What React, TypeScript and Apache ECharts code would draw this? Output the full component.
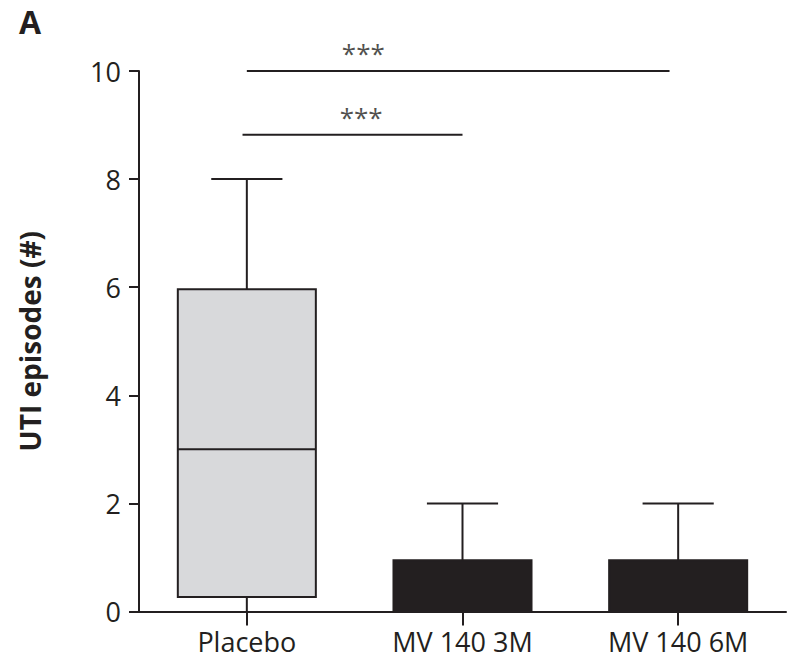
import React, { useEffect, useRef } from "react";
import * as echarts from "echarts";

// ---- data ----
const categories = ["Placebo", "MV 140 3M", "MV 140 6M"];
const whiskerLow = [0, 0, 0];
const q1Values = [0.27, 0, 0];
const medianValues = [3, 0, 0];
const q3Values = [5.96, 0.95, 0.95];
const whiskerHigh = [8, 2, 2];
const yTicks = [0, 2, 4, 6, 8, 10];

// significance brackets
const sigStart = [0, -0.02];
const sigEnd = [1.96, 1.0];
const sigLevel = [10, 8.82];
const sigStarX = [0.54, 0.53];
const sigLabels = ["***", "***"];

const INK = "#231f20";
const boxFills = ["#d8d9db", INK, INK];
const FONT = "'Open Sans', 'Noto Sans', sans-serif";

export default function App() {
  const ref = useRef<HTMLDivElement>(null);
  useEffect(() => {
    if (!ref.current) return;
    document.body.style.margin = "0";
    const chart = echarts.init(ref.current, undefined, { renderer: "svg" });
    const boxData = categories.map((_, i) => [
      i,
      whiskerLow[i],
      q1Values[i],
      medianValues[i],
      q3Values[i],
      whiskerHigh[i],
    ]);
    const sigSeries: any[] = [];
    sigLevel.forEach((lv, k) => {
      sigSeries.push({
        type: "line",
        xAxisIndex: 1,
        yAxisIndex: 0,
        data: [
          [sigStart[k], lv],
          [sigEnd[k], lv],
        ],
        symbol: "none",
        lineStyle: { color: INK, width: 2 },
        clip: false,
        silent: true,
      });
      sigSeries.push({
        type: "scatter",
        xAxisIndex: 1,
        yAxisIndex: 0,
        data: [[sigStarX[k], lv]],
        symbolSize: 0,
        clip: false,
        silent: true,
        label: {
          show: true,
          position: "inside",
          offset: [0, -18],
          formatter: () => sigLabels[k],
          fontFamily: FONT,
          fontSize: 26,
          color: INK,
        },
      });
    });
    chart.setOption({
      animation: false,
      backgroundColor: "#ffffff",
      graphic: [
        {
          type: "text",
          left: 19,
          top: 5,
          style: {
            text: "A",
            fontFamily: FONT,
            fontWeight: "bold",
            fontSize: 32,
            fill: INK,
          },
        },
      ],
      grid: { left: 139, right: 1, top: 71, bottom: 48.5, containLabel: false },
      xAxis: [
        {
          type: "category",
          data: categories,
          boundaryGap: true,
          axisLine: { show: true, onZero: false, lineStyle: { color: INK, width: 2 } },
          axisTick: {
            show: true,
            alignWithLabel: true,
            length: 14,
            lineStyle: { color: INK, width: 2 },
          },
          axisLabel: {
            margin: 16,
            fontFamily: FONT,
            fontSize: 27,
            color: INK,
          },
          splitLine: { show: false },
        },
        {
          type: "value",
          min: -0.5,
          max: 2.5,
          show: false,
          axisLine: { show: false },
          axisTick: { show: false },
          axisLabel: { show: false },
          splitLine: { show: false },
        },
      ],
      yAxis: {
        type: "value",
        min: 0,
        max: 10,
        interval: 2,
        name: "UTI episodes (#)",
        nameLocation: "middle",
        nameGap: 95,
        nameTextStyle: {
          fontFamily: FONT,
          fontWeight: "bold",
          fontSize: 28,
          color: INK,
        },
        axisLine: { show: true, onZero: false, lineStyle: { color: INK, width: 2 } },
        axisTick: { show: true, length: 10, lineStyle: { color: INK, width: 2 } },
        axisLabel: {
          margin: 18,
          fontFamily: FONT,
          fontSize: 27,
          color: INK,
          formatter: (v: number) => (yTicks.includes(v) ? String(v) : ""),
        },
        splitLine: { show: false },
      },
      series: [
        {
          type: "custom",
          xAxisIndex: 0,
          yAxisIndex: 0,
          data: boxData,
          silent: true,
          renderItem: (params: any, api: any) => {
            const idx = api.value(0);
            const lo = api.coord([idx, api.value(1)]);
            const q1 = api.coord([idx, api.value(2)]);
            const med = api.coord([idx, api.value(3)]);
            const q3 = api.coord([idx, api.value(4)]);
            const hi = api.coord([idx, api.value(5)]);
            const band = api.size([1, 0])[0];
            const w = band * 0.64;
            const cw = band * 0.33;
            const cx = lo[0];
            const ls = { stroke: INK, lineWidth: 2, lineCap: "butt" };
            const fill = boxFills[params.dataIndex];
            return {
              type: "group",
              children: [
                {
                  type: "rect",
                  shape: { x: cx - w / 2, y: q3[1], width: w, height: q1[1] - q3[1] },
                  style: { fill, stroke: INK, lineWidth: 2 },
                },
                { type: "line", shape: { x1: cx - w / 2, y1: med[1], x2: cx + w / 2, y2: med[1] }, style: ls },
                { type: "line", shape: { x1: cx, y1: q3[1], x2: cx, y2: hi[1] }, style: ls },
                { type: "line", shape: { x1: cx - cw / 2, y1: hi[1], x2: cx + cw / 2, y2: hi[1] }, style: ls },
                { type: "line", shape: { x1: cx, y1: q1[1], x2: cx, y2: lo[1] }, style: ls },
              ],
            };
          },
        },
        ...sigSeries,
      ],
    });
    return () => chart.dispose();
  }, []);
  return <div ref={ref} style={{ width: 787, height: 660 }} />;
}
